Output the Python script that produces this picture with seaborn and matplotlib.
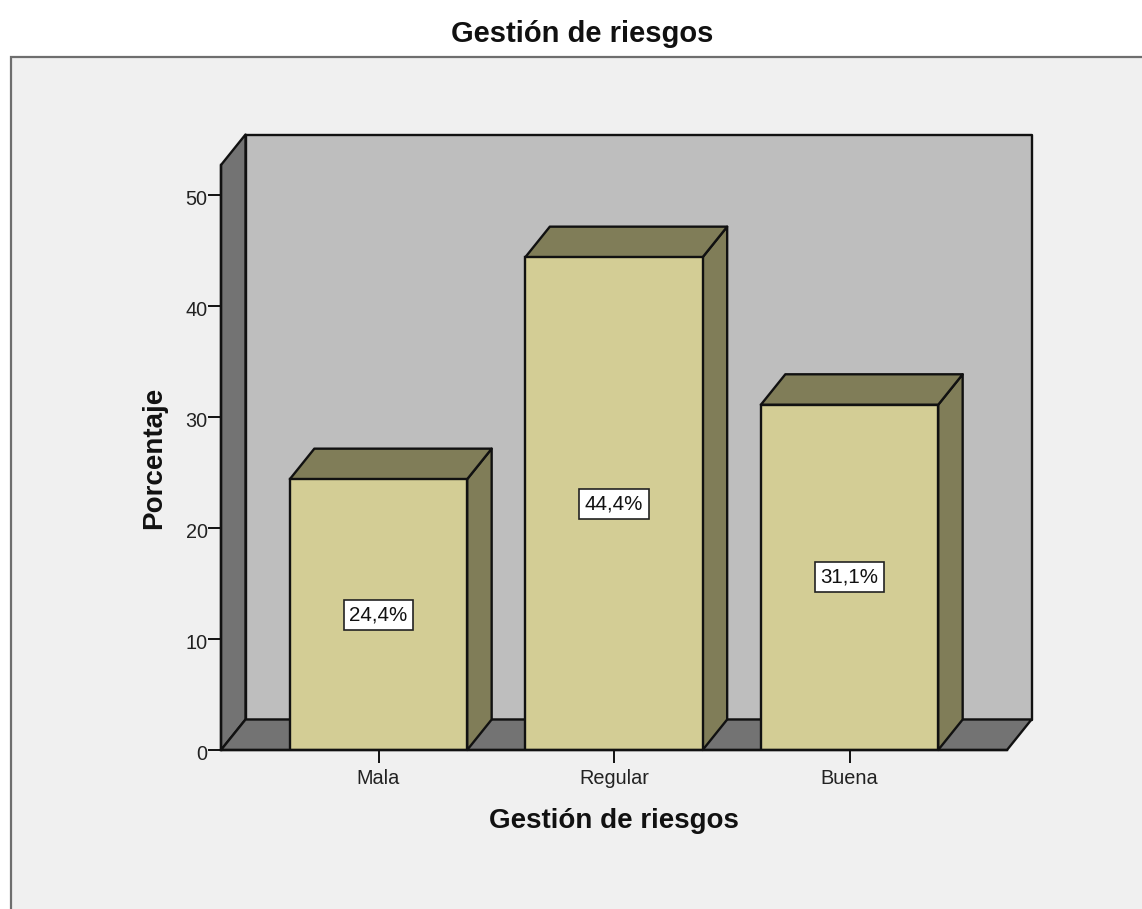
import matplotlib
matplotlib.use("Agg")
import matplotlib.pyplot as plt
from matplotlib.patches import Polygon, Rectangle
from matplotlib.transforms import ScaledTranslation
import pandas as pd
import seaborn as sns

categories = ["Mala", "Regular", "Buena"]
percentages = [24.4, 44.4, 31.1]
bar_labels = ["24,4%", "44,4%", "31,1%"]
y_ticks = [0, 10, 20, 30, 40, 50]

W, H = 1142, 909
PANEL = "#f0f0f0"
WALL = "#bebebe"
SIDE = "#737373"
BAR = "#d3cd95"
BAR_DARK = "#807d58"
LINE = "#111111"

sns.set_theme(style="white")
plt.rcParams["font.family"] = ["Liberation Sans", "DejaVu Sans"]

df = pd.DataFrame({"cat": categories, "pct": percentages})

fig = plt.figure(figsize=(W / 100, H / 100), dpi=100, facecolor="white")

# grey panel behind everything, runs off the right and bottom edge
fig.add_artist(Rectangle((10.5 / W, -0.01), 1.02 - 10.5 / W, 1.01 - 56.5 / H,
                         transform=fig.transFigure, facecolor=PANEL,
                         edgecolor="#6e6e6e", linewidth=1.6, zorder=-1))

# axes = front plane of the 3d box
left, right, bottom, top = 221, 1007, 750, 165
ax = fig.add_axes([left / W, 1 - bottom / H, (right - left) / W, (bottom - top) / H])
ax.patch.set_alpha(0)

sns.barplot(data=df, x="cat", y="pct", color=BAR, saturation=1, width=0.753,
            edgecolor=LINE, linewidth=1.7, ax=ax, zorder=5)

px_y = 555 / 50  # pixels per unit on y
px_x = 235.5  # pixels per category
x0 = (left - 378.5) / px_x
x1 = (right - 378.5) / px_x
y1 = (bottom - top) / px_y
ax.set_xlim(x0, x1)
ax.set_ylim(0, y1)

# depth of the box
dx = 24.5 / px_x
dy = 30.5 / px_y


def face(points, color, z):
    ax.add_patch(Polygon(points, closed=True, facecolor=color, edgecolor=LINE,
                         linewidth=1.7, joinstyle="round", clip_on=False, zorder=z))


face([(x0 + dx, dy), (x1 + dx, dy), (x1 + dx, y1 + dy), (x0 + dx, y1 + dy)], WALL, 1)
face([(x0, 0), (x0 + dx, dy), (x0 + dx, y1 + dy), (x0, y1)], SIDE, 2)
face([(x0, 0), (x1, 0), (x1 + dx, dy), (x0 + dx, dy)], SIDE, 2)

# side and top of each bar
for bar, text in zip(ax.patches[:3], bar_labels):
    xa = bar.get_x()
    xb = xa + bar.get_width()
    h = bar.get_height()
    face([(xb, 0), (xb + dx, dy), (xb + dx, h + dy), (xb, h)], BAR_DARK, 4)
    face([(xa, h), (xb, h), (xb + dx, h + dy), (xa + dx, h + dy)], BAR_DARK, 4)
    ax.text((xa + xb) / 2, h / 2, text, ha="center", va="center", fontsize=14.8,
            color="#111111", zorder=7,
            bbox=dict(boxstyle="square,pad=0.27", facecolor="white",
                      edgecolor="#222222", linewidth=1.2))

for s in ["top", "right"]:
    ax.spines[s].set_visible(False)
for s in ["left", "bottom"]:
    ax.spines[s].set_color(LINE)
    ax.spines[s].set_linewidth(1.7)
    ax.spines[s].set_zorder(6)

ax.set_yticks(y_ticks)
ax.set_xticks(range(len(categories)))
ax.set_xticklabels(categories)
ax.tick_params(axis="both", length=9.2, width=1.4, color="#111111", labelsize=14.3,
               labelcolor="#222222", pad=0.5, bottom=True, left=True)
ax.tick_params(axis="x", pad=4.7)

# y labels sit a little under their tick in the original
nudge = ScaledTranslation(0, -2 / 72, fig.dpi_scale_trans)
for lab in ax.get_yticklabels():
    lab.set_transform(lab.get_transform() + nudge)

ax.set_xlabel("Gestión de riesgos", fontsize=20, fontweight="bold", color="#111111",
              labelpad=14.5)
ax.set_ylabel("Porcentaje", fontsize=20, fontweight="bold", color="#111111")
ax.yaxis.set_label_coords((167 - left) / (right - left), (bottom - 458) / (bottom - top))

fig.text(582.5 / W, 1 - 42.5 / H, "Gestión de riesgos", ha="center", va="baseline",
         fontsize=21, fontweight="bold", color="#111111")

fig.savefig("out.png", dpi=100)
